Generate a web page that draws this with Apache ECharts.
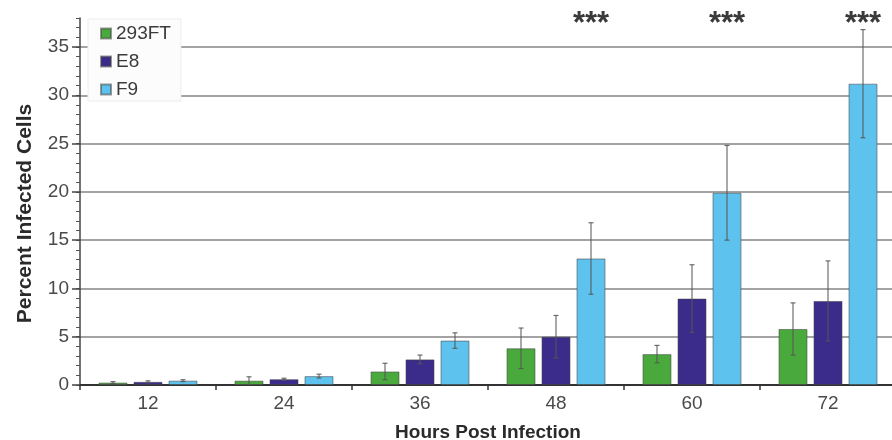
<!DOCTYPE html>
<html>
<head>
<meta charset="utf-8">
<script src="https://cdn.jsdelivr.net/npm/echarts@6/dist/echarts.min.js"></script>
<style>
  html, body { margin: 0; padding: 0; background: #fff; }
  #chart { width: 892px; height: 440px; }
</style>
</head>
<body>
<div id="chart"></div>
<script>
// Hours post infection
const categories = ['12', '24', '36', '48', '60', '72'];

// Percent infected cells (mean) and error (± SD) per cell line
const ft293 = [0.25, 0.45, 1.4, 3.8, 3.2, 5.8];
const ft293Err = [0.1, 0.4, 0.85, 2.1, 0.9, 2.7];
const e8 = [0.33, 0.6, 2.65, 5.0, 8.95, 8.7];
const e8Err = [0.1, 0.1, 0.45, 2.2, 3.5, 4.15];
const f9 = [0.45, 0.92, 4.6, 13.1, 19.9, 31.2];
const f9Err = [0.1, 0.2, 0.8, 3.7, 4.9, 5.6];

// Significance marks above the F9 bars
const significance = ['', '', '', '***', '***', '***'];

// Y axis ticks
const yMajorTicks = [0, 5, 10, 15, 20, 25, 30, 35];
const yMax = 38;

const FONT = '"Liberation Sans", Arial, sans-serif';
const BAR_WIDTH = 29;
const BAR_GAP = 6;
const SIG_LEVEL = 37.3;

const groups = [
  { name: '293FT', values: ft293, errors: ft293Err, color: '#4aa93d' },
  { name: 'E8', values: e8, errors: e8Err, color: '#3b2b8b' },
  { name: 'F9', values: f9, errors: f9Err, color: '#5dc3ee' }
];

function errorBarSeries(g, k) {
  const offset = (k - (groups.length - 1) / 2) * (BAR_WIDTH + BAR_GAP);
  return {
    type: 'custom',
    name: g.name + ' error',
    z: 5,
    silent: true,
    data: g.values.map((v, i) => [i, v, g.errors[i]]),
    renderItem: function (params, api) {
      const idx = api.value(0);
      const v = api.value(1);
      const e = api.value(2);
      const x = api.coord([idx, v])[0] + offset;
      const yTop = api.coord([idx, v + e])[1];
      const yBot = api.coord([idx, Math.max(0, v - e)])[1];
      const cap = 2.5;
      const style = { stroke: '#555', lineWidth: 1.2, opacity: 0.85 };
      return {
        type: 'group',
        children: [
          { type: 'line', shape: { x1: x, y1: yTop, x2: x, y2: yBot }, style: style },
          { type: 'line', shape: { x1: x - cap, y1: yTop, x2: x + cap, y2: yTop }, style: style },
          { type: 'line', shape: { x1: x - cap, y1: yBot, x2: x + cap, y2: yBot }, style: style }
        ]
      };
    }
  };
}

const sigSeries = {
  type: 'custom',
  name: 'significance',
  z: 6,
  silent: true,
  data: significance.map((s, i) => [i, SIG_LEVEL, s]),
  renderItem: function (params, api) {
    const idx = api.value(0);
    const pt = api.coord([idx, api.value(1)]);
    const text = significance[idx];
    return {
      type: 'text',
      x: pt[0] + (BAR_WIDTH + BAR_GAP),
      y: pt[1],
      style: {
        text: text,
        fill: '#3a3a3a',
        font: 'bold 31px ' + FONT,
        align: 'center',
        verticalAlign: 'middle'
      }
    };
  }
};

const chart = echarts.init(document.getElementById('chart'), null, { renderer: 'canvas' });

const option = {
  animation: false,
  backgroundColor: '#fff',
  textStyle: { fontFamily: FONT },
  grid: { left: 80, right: -4, top: 18, bottom: 55, containLabel: false, outerBoundsMode: 'none' },
  legend: {
    orient: 'vertical',
    left: 88,
    top: 19,
    padding: [5, 10, 2, 12],
    itemWidth: 10,
    itemHeight: 10,
    itemGap: 9,
    icon: 'rect',
    backgroundColor: '#fcfcfc',
    borderColor: '#ececec',
    borderWidth: 1,
    data: groups.map(g => g.name),
    textStyle: { fontSize: 19, lineHeight: 19, color: '#3a3a3a', fontFamily: FONT }
  },
  xAxis: {
    type: 'category',
    data: categories,
    name: 'Hours Post Infection',
    nameLocation: 'middle',
    nameGap: 38,
    nameTextStyle: { fontSize: 19, fontWeight: 'bold', color: '#2a2a2a', fontFamily: FONT },
    axisLine: { lineStyle: { color: '#333', width: 2 } },
    axisTick: { show: true, alignWithLabel: false, length: 5, lineStyle: { color: '#333', width: 1.5 } },
    axisLabel: { fontSize: 19, color: '#4a4a4a', margin: 9, fontFamily: FONT },
    splitLine: { show: false }
  },
  yAxis: [
    {
      type: 'value',
      min: 0,
      max: yMax,
      interval: 1,
      axisLine: { show: true, lineStyle: { color: '#444', width: 1.5 } },
      axisTick: { show: true, length: 4, lineStyle: { color: '#555', width: 1 } },
      axisLabel: { show: false },
      splitLine: { show: false }
    },
    {
      type: 'value',
      min: 0,
      max: yMax,
      interval: 1,
      position: 'left',
      name: 'Percent Infected Cells',
      nameLocation: 'middle',
      nameGap: 44,
      nameTextStyle: { fontSize: 21, fontWeight: 'bold', color: '#2a2a2a', fontFamily: FONT, padding: [0, 24, 0, 0] },
      axisLine: { show: false },
      axisTick: { show: true, length: 8, customValues: yMajorTicks, lineStyle: { color: '#444', width: 1.5 } },
      axisLabel: { fontSize: 19, color: '#4a4a4a', margin: 11, customValues: yMajorTicks, fontFamily: FONT },
      splitLine: { show: true, lineStyle: { color: '#a3a3a3', width: 2 } }
    }
  ],
  series: groups.map((g, k) => ({
    type: 'bar',
    name: g.name,
    data: g.values,
    barWidth: BAR_WIDTH,
    barGap: (BAR_GAP / BAR_WIDTH * 100).toFixed(1) + '%',
    itemStyle: { color: g.color, borderColor: 'rgba(70,70,70,0.55)', borderWidth: 1 },
    z: 2
  })).concat(groups.map(errorBarSeries)).concat([sigSeries])
};

chart.setOption(option);
</script>
</body>
</html>
